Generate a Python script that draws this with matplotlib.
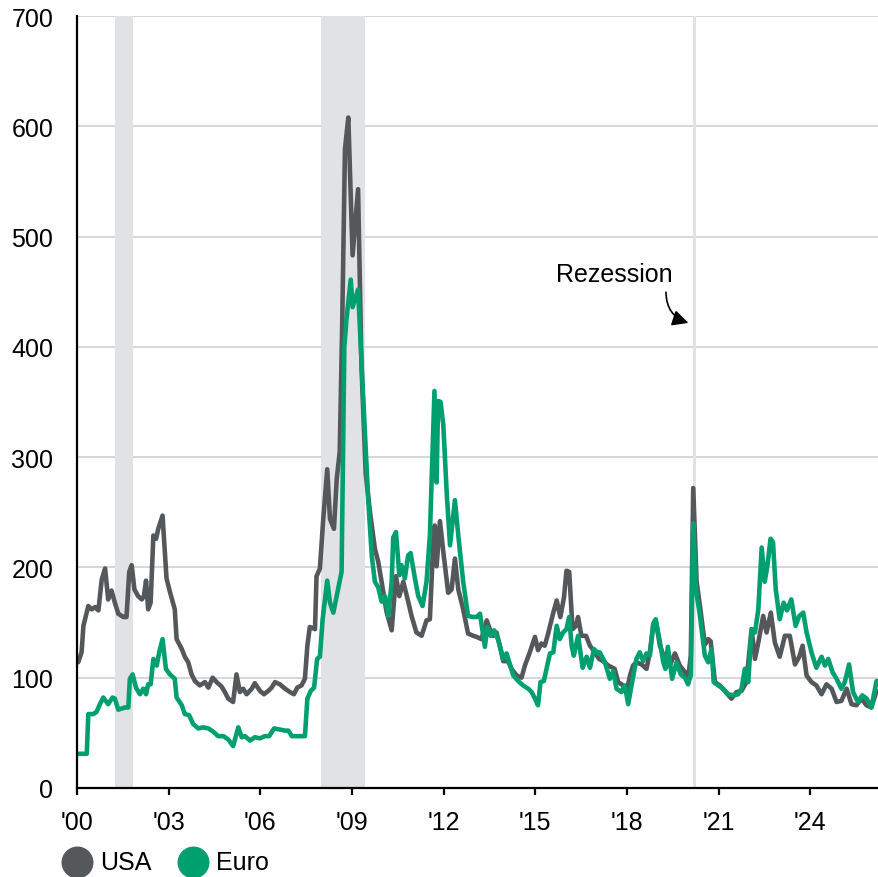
import matplotlib.pyplot as plt
from matplotlib.lines import Line2D

plt.rcParams['font.family'] = ['Liberation Sans', 'DejaVu Sans']

# spreads, fractional years
usa_t = [2000.00, 2000.04, 2000.15, 2000.21, 2000.37, 2000.48, 2000.59, 2000.70, 2000.81, 2000.92,
         2001.02, 2001.13, 2001.24, 2001.35, 2001.52, 2001.62, 2001.71, 2001.79, 2001.88, 2002.00,
         2002.12, 2002.19, 2002.26, 2002.33, 2002.41, 2002.50, 2002.59, 2002.66, 2002.80, 2002.93,
         2003.04, 2003.20, 2003.26, 2003.43, 2003.53, 2003.64, 2003.75, 2003.86, 2004.02, 2004.19,
         2004.30, 2004.44, 2004.57, 2004.73, 2004.84, 2004.95, 2005.11, 2005.22, 2005.33, 2005.44,
         2005.55, 2005.72, 2005.82, 2005.99, 2006.12, 2006.26, 2006.37, 2006.48, 2006.64, 2006.81,
         2006.97, 2007.10, 2007.21, 2007.35, 2007.46, 2007.54, 2007.62, 2007.79, 2007.84, 2007.95,
         2008.06, 2008.19, 2008.28, 2008.41, 2008.50, 2008.60, 2008.68, 2008.77, 2008.88, 2009.02,
         2009.20, 2009.31, 2009.45, 2009.59, 2009.75, 2009.86, 2009.97, 2010.13, 2010.30, 2010.44,
         2010.55, 2010.68, 2010.84, 2010.95, 2011.11, 2011.28, 2011.44, 2011.55, 2011.66, 2011.71,
         2011.77, 2011.88, 2011.99, 2012.15, 2012.26, 2012.37, 2012.48, 2012.64, 2012.80, 2012.97,
         2013.08, 2013.24, 2013.41, 2013.51, 2013.62, 2013.73, 2013.84, 2013.95, 2014.11, 2014.22,
         2014.39, 2014.55, 2014.66, 2014.82, 2014.99, 2015.09, 2015.20, 2015.31, 2015.42, 2015.59,
         2015.70, 2015.82, 2015.94, 2016.02, 2016.11, 2016.22, 2016.33, 2016.40, 2016.51, 2016.66,
         2016.79, 2016.95, 2017.09, 2017.22, 2017.39, 2017.60, 2017.71, 2017.88, 2017.99, 2018.10,
         2018.20, 2018.31, 2018.48, 2018.64, 2018.75, 2018.86, 2018.94, 2019.08, 2019.24, 2019.40,
         2019.57, 2019.73, 2019.90, 2020.00, 2020.09, 2020.17, 2020.28, 2020.39, 2020.55, 2020.66,
         2020.74, 2020.88, 2021.04, 2021.20, 2021.42, 2021.59, 2021.75, 2021.91, 2022.08, 2022.19,
         2022.30, 2022.46, 2022.57, 2022.71, 2022.84, 2023.00, 2023.17, 2023.33, 2023.50, 2023.64,
         2023.75, 2023.88, 2024.04, 2024.20, 2024.37, 2024.53, 2024.70, 2024.86, 2025.02, 2025.19,
         2025.35, 2025.51, 2025.68, 2025.84, 2026.00, 2026.17]
usa_v = [114, 114, 123, 147, 165, 162, 164, 161, 189, 199,
         171, 179, 168, 158, 155, 155, 196, 202, 180, 174,
         171, 174, 188, 162, 168, 229, 226, 235, 247, 190,
         178, 162, 135, 126, 119, 114, 103, 97, 93, 96,
         91, 100, 96, 92, 87, 81, 78, 103, 87, 90,
         85, 90, 95, 88, 85, 88, 91, 96, 94, 90,
         87, 85, 91, 93, 99, 129, 146, 144, 192, 199,
         244, 289, 244, 235, 280, 305, 420, 579, 608, 483,
         543, 383, 285, 250, 217, 205, 187, 160, 143, 192,
         174, 187, 169, 156, 141, 138, 152, 153, 223, 238,
         201, 242, 214, 177, 180, 208, 180, 162, 140, 138,
         137, 135, 152, 144, 138, 141, 129, 115, 115, 108,
         102, 100, 111, 123, 137, 125, 131, 129, 140, 159,
         170, 155, 173, 197, 196, 144, 147, 155, 138, 138,
         129, 123, 117, 115, 111, 108, 96, 93, 87, 102,
         111, 114, 112, 108, 123, 147, 152, 129, 117, 111,
         122, 111, 105, 99, 120, 272, 187, 165, 130, 135,
         133, 96, 93, 88, 81, 87, 88, 96, 144, 117,
         132, 156, 141, 159, 132, 119, 138, 138, 112, 119,
         129, 102, 96, 93, 85, 94, 90, 78, 79, 90,
         76, 75, 81, 75, 73, 88]

eur_t = [2000.00, 2000.32, 2000.37, 2000.53, 2000.64, 2000.75, 2000.86, 2001.02, 2001.16, 2001.24,
         2001.35, 2001.57, 2001.68, 2001.73, 2001.82, 2001.93, 2002.06, 2002.17, 2002.26, 2002.33,
         2002.41, 2002.50, 2002.61, 2002.69, 2002.80, 2002.91, 2003.04, 2003.20, 2003.26, 2003.43,
         2003.53, 2003.67, 2003.80, 2003.97, 2004.13, 2004.30, 2004.46, 2004.62, 2004.79, 2004.95,
         2005.11, 2005.28, 2005.39, 2005.50, 2005.66, 2005.82, 2005.99, 2006.15, 2006.29, 2006.45,
         2006.64, 2006.81, 2006.92, 2007.03, 2007.19, 2007.35, 2007.46, 2007.54, 2007.65, 2007.76,
         2007.86, 2007.95, 2008.04, 2008.19, 2008.28, 2008.39, 2008.50, 2008.66, 2008.75, 2008.82,
         2008.96, 2009.02, 2009.20, 2009.37, 2009.53, 2009.65, 2009.75, 2009.86, 2009.97, 2010.08,
         2010.19, 2010.30, 2010.35, 2010.44, 2010.55, 2010.62, 2010.73, 2010.84, 2010.92, 2011.06,
         2011.17, 2011.31, 2011.44, 2011.55, 2011.64, 2011.70, 2011.77, 2011.82, 2011.90, 2011.99,
         2012.10, 2012.21, 2012.37, 2012.48, 2012.64, 2012.80, 2012.97, 2013.08, 2013.19, 2013.35,
         2013.43, 2013.54, 2013.65, 2013.79, 2013.95, 2014.06, 2014.17, 2014.28, 2014.44, 2014.60,
         2014.77, 2014.88, 2014.99, 2015.09, 2015.17, 2015.28, 2015.39, 2015.48, 2015.59, 2015.70,
         2015.80, 2015.91, 2016.02, 2016.11, 2016.19, 2016.26, 2016.40, 2016.55, 2016.68, 2016.79,
         2016.92, 2017.06, 2017.11, 2017.28, 2017.44, 2017.55, 2017.66, 2017.82, 2017.93, 2018.04,
         2018.15, 2018.31, 2018.42, 2018.53, 2018.64, 2018.75, 2018.86, 2018.94, 2019.08, 2019.19,
         2019.26, 2019.34, 2019.48, 2019.62, 2019.76, 2019.90, 2020.00, 2020.09, 2020.17, 2020.26,
         2020.39, 2020.55, 2020.66, 2020.77, 2020.84, 2020.99, 2021.15, 2021.31, 2021.48, 2021.64,
         2021.75, 2021.86, 2021.97, 2022.08, 2022.19, 2022.30, 2022.41, 2022.51, 2022.60, 2022.70,
         2022.78, 2022.87, 2023.00, 2023.13, 2023.24, 2023.38, 2023.52, 2023.64, 2023.77, 2023.88,
         2024.04, 2024.20, 2024.37, 2024.48, 2024.59, 2024.73, 2024.86, 2025.02, 2025.13, 2025.27,
         2025.40, 2025.56, 2025.70, 2025.85, 2026.00, 2026.17]
eur_v = [31, 31, 67, 67, 69, 76, 82, 76, 82, 81,
         71, 73, 73, 99, 103, 91, 85, 90, 85, 94,
         94, 117, 111, 123, 135, 108, 103, 99, 82, 75,
         67, 66, 58, 54, 55, 54, 51, 47, 47, 44,
         38, 55, 46, 47, 43, 46, 45, 47, 47, 54,
         53, 52, 52, 47, 47, 47, 47, 81, 88, 91,
         117, 119, 153, 188, 168, 159, 174, 196, 400, 425,
         461, 436, 452, 353, 262, 210, 187, 182, 169, 174,
         156, 187, 227, 232, 193, 202, 190, 211, 213, 190,
         174, 165, 187, 229, 307, 360, 277, 351, 350, 329,
         268, 220, 261, 229, 187, 156, 155, 155, 158, 128,
         146, 138, 143, 134, 117, 122, 112, 102, 97, 93,
         90, 87, 81, 75, 96, 97, 111, 122, 123, 147,
         135, 141, 144, 155, 129, 120, 138, 109, 119, 109,
         126, 122, 123, 114, 99, 106, 90, 87, 93, 76,
         93, 117, 123, 115, 122, 120, 149, 153, 132, 114,
         108, 128, 99, 114, 103, 100, 94, 102, 240, 180,
         156, 120, 114, 126, 96, 93, 90, 85, 84, 85,
         90, 108, 96, 144, 141, 162, 218, 187, 202, 226,
         223, 180, 153, 168, 161, 171, 147, 156, 159, 141,
         123, 109, 119, 111, 117, 105, 99, 90, 96, 112,
         87, 78, 84, 81, 73, 97]

recessions = [(2001.25, 2001.83), (2008.0, 2009.42), (2020.17, 2020.25)]
tick_years = [2000, 2003, 2006, 2009, 2012, 2015, 2018, 2021, 2024]
tick_labels = ["'00", "'03", "'06", "'09", "'12", "'15", "'18", "'21", "'24"]

usa_color = '#55585b'
eur_color = '#00a06e'

fig = plt.figure(figsize=(8.79, 8.78), dpi=100)
ax = fig.add_axes([0.0876, 0.1014, 0.9124, 0.8792])

for start, end in recessions:
    ax.axvspan(start, end, color='#e1e2e4', lw=0, zorder=1)

ax.plot(usa_t, usa_v, color=usa_color, lw=3.3, solid_joinstyle='round',
        solid_capstyle='round', zorder=3)
ax.plot(eur_t, eur_v, color=eur_color, lw=3.3, solid_joinstyle='round',
        solid_capstyle='round', zorder=4)

ax.set_xlim(2000, 2026.25)
ax.set_ylim(0, 700)
ax.set_yticks(range(0, 701, 100))
ax.set_xticks(tick_years)
ax.set_xticklabels(tick_labels)
ax.yaxis.grid(True, color='#cfcfcf', lw=1.2, zorder=0)
ax.set_axisbelow(True)

for side in ['top', 'right']:
    ax.spines[side].set_visible(False)
for side in ['left', 'bottom']:
    ax.spines[side].set_linewidth(1.6)
    ax.spines[side].set_zorder(5)

ax.tick_params(axis='y', length=0, pad=17, labelsize=18)
ax.tick_params(axis='x', length=5, width=1.6, pad=11, labelsize=18)

ax.text(2017.6, 466, 'Rezession', fontsize=18, ha='center', va='center')
ax.annotate('', xy=(2020.1, 421), xytext=(2019.28, 452),
            arrowprops=dict(arrowstyle='-|>', color='black', lw=1.2,
                            mutation_scale=24, connectionstyle='arc3,rad=0.4'))

# legend drawn by hand in figure coordinates
legend_items = [('USA', usa_color, 0.0876), ('Euro', eur_color, 0.2196)]
for label, color, xc in legend_items:
    fig.add_artist(Line2D([xc], [0.017], marker='o', ms=22, ls='', color=color,
                          transform=fig.transFigure))
    fig.text(xc + 0.026, 0.017, label, fontsize=18, va='center', ha='left')

fig.savefig('out.png', dpi=100)
